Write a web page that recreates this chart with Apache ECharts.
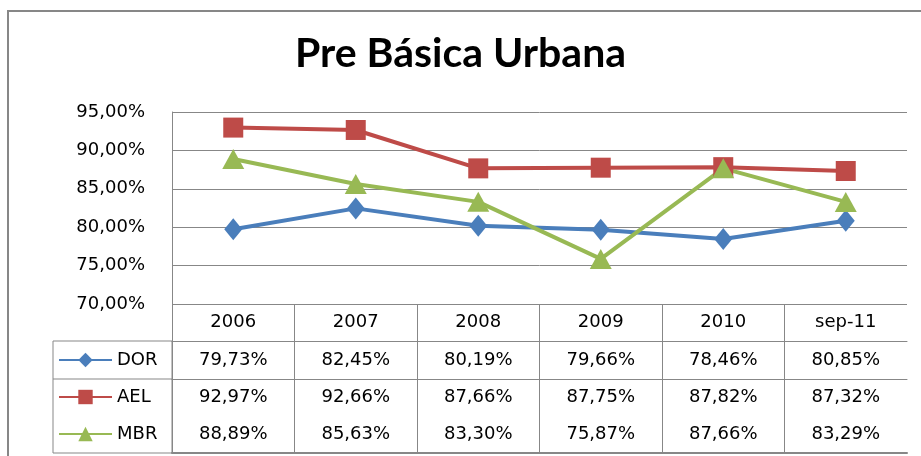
<!DOCTYPE html>
<html>
<head>
<meta charset="utf-8">
<script src="https://cdn.jsdelivr.net/npm/echarts@6/dist/echarts.min.js"></script>
<style>
  html, body { margin: 0; padding: 0; background: #fff; }
  #chart { width: 921px; height: 456px; }
</style>
</head>
<body>
<div id="chart"></div>
<script>
// data
const categories = ['2006', '2007', '2008', '2009', '2010', 'sep-11']
const dorValues = [79.73, 82.45, 80.19, 79.66, 78.46, 80.85]
const aelValues = [92.97, 92.66, 87.66, 87.75, 87.82, 87.32]
const mbrValues = [88.89, 85.63, 83.30, 75.87, 87.66, 83.29]
const seriesNames = ['DOR', 'AEL', 'MBR']

const colors = ['#4A7EBB', '#BE4B48', '#98B954']
const gridColor = '#878787'
const labelFont = 'DejaVu Sans'

function pct(v) {
  return v.toFixed(2).replace('.', ',') + '%'
}

// table rows under the plot: header + one row per series
const tableRows = [
  { top: 304, height: 37, data: categories, line: 1 },
  { top: 341, height: 38, data: dorValues.map(pct), line: 1 },
  { top: 379, height: 37, data: aelValues.map(pct), line: 0 },
  { top: 416, height: 37, data: mbrValues.map(pct), line: 2 }
]

const chart = echarts.init(document.getElementById('chart'))

const grids = [{ left: 172, top: 112, width: 735, height: 192 }]
const xAxes = [{
  gridIndex: 0,
  type: 'category',
  data: categories,
  boundaryGap: true,
  axisLine: { show: false },
  axisTick: { show: false },
  axisLabel: { show: false },
  splitLine: { show: false }
}]
const yAxes = [{
  gridIndex: 0,
  type: 'value',
  min: 70,
  max: 95,
  interval: 5,
  axisLine: { show: true, lineStyle: { color: gridColor, width: 1 } },
  axisTick: { show: false },
  axisLabel: {
    margin: 27,
    color: '#000',
    fontFamily: labelFont,
    fontSize: 18,
    formatter: function(v) { return pct(v) }
  },
  splitLine: { show: true, lineStyle: { color: gridColor, width: 1 } }
}]

tableRows.forEach(function(row, i) {
  grids.push({ left: 172, top: row.top, width: 735, height: row.height })
  xAxes.push({
    gridIndex: i + 1,
    type: 'category',
    data: row.data,
    position: 'bottom',
    boundaryGap: true,
    axisLine: { show: row.line > 0, lineStyle: { color: gridColor, width: row.line || 1 } },
    axisTick: { show: false },
    axisLabel: {
      inside: true,
      interval: 0,
      margin: row.height / 2,
      verticalAlign: 'middle',
      color: '#000',
      fontFamily: labelFont,
      fontSize: 18
    },
    splitLine: { show: true, showMaxLine: false, lineStyle: { color: gridColor, width: 1 } }
  })
  yAxes.push({ gridIndex: i + 1, type: 'value', show: false, min: 0, max: 1 })
})

chart.setOption({
  animation: false,
  backgroundColor: '#fff',
  title: {
    text: 'Pre Básica Urbana',
    left: 'center',
    top: 28,
    textStyle: {
      fontFamily: 'Lato',
      fontWeight: 'bold',
      fontSize: 41,
      color: '#000'
    }
  },
  legend: {
    data: seriesNames,
    orient: 'vertical',
    left: 58,
    top: 351,
    padding: 0,
    itemWidth: 53,
    itemHeight: 18,
    itemGap: 19,
    textStyle: { fontFamily: labelFont, fontSize: 18, color: '#000' }
  },
  grid: grids,
  xAxis: xAxes,
  yAxis: yAxes,
  // chart frame and legend-column box of the data table
  graphic: [
    {
      type: 'rect',
      shape: { x: 8, y: 11, width: 940, height: 470 },
      style: { fill: 'none', stroke: gridColor, lineWidth: 2 },
      silent: true
    },
    {
      type: 'rect',
      shape: { x: 53, y: 341, width: 119, height: 112 },
      style: { fill: 'none', stroke: gridColor, lineWidth: 1 },
      silent: true
    },
    {
      type: 'line',
      shape: { x1: 53, y1: 379, x2: 172, y2: 379 },
      style: { stroke: gridColor, lineWidth: 1 },
      silent: true
    }
  ],
  series: [
    {
      name: 'DOR',
      type: 'line',
      data: dorValues,
      symbol: 'diamond',
      symbolSize: [18, 22],
      itemStyle: { color: colors[0] },
      lineStyle: { color: colors[0], width: 4 }
    },
    {
      name: 'AEL',
      type: 'line',
      data: aelValues,
      symbol: 'rect',
      symbolSize: 20,
      itemStyle: { color: colors[1] },
      lineStyle: { color: colors[1], width: 4 }
    },
    {
      name: 'MBR',
      type: 'line',
      data: mbrValues,
      symbol: 'triangle',
      symbolSize: [22, 20],
      itemStyle: { color: colors[2] },
      lineStyle: { color: colors[2], width: 4 }
    }
  ]
})
</script>
</body>
</html>
